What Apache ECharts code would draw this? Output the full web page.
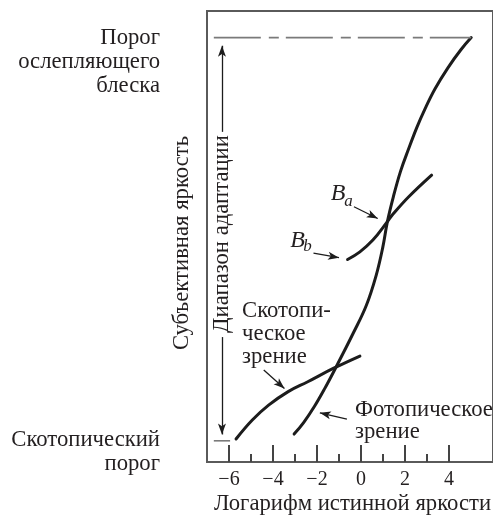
<!DOCTYPE html>
<html><head><meta charset="utf-8">
<script src="https://cdn.jsdelivr.net/npm/echarts@6/dist/echarts.min.js"></script>
<style>html,body{margin:0;padding:0;background:#fff}#c{width:493px;height:521px}</style>
</head><body><div id="c"></div>
<script>
// ---- data (x: log of true luminance, y: subjective brightness, arbitrary units 0..10)
const xTicksMajor = [-6, -4, -2, 0, 2, 4];
const xTicksMinor = [-5, -3, -1, 1, 3];
const photopic = [[-3.04,0.62],[-2.60,0.88],[-2.12,1.23],[-1.67,1.61],[-1.16,2.08],[-0.35,2.86],[0.24,3.47],[0.69,4.14],[0.99,4.76],[1.20,5.33],[1.47,5.88],[1.80,6.45],[2.17,6.95],[2.54,7.42],[2.91,7.83],[3.36,8.27],[3.95,8.74],[4.54,9.14],[5.01,9.41]];
const adaptCurve = [[-0.61,4.49],[-0.05,4.66],[0.54,4.92],[1.20,5.33],[1.43,5.48],[2.17,5.88],[3.21,6.36]];
const scotopic = [[-5.68,0.51],[-4.94,0.93],[-4.20,1.26],[-3.31,1.56],[-2.42,1.78],[-1.24,2.08],[-0.05,2.35]];
const glareLevel = 9.41;
const scotopicThreshold = 0.47;
const glareLine = [[-6.69, glareLevel], [5.01, glareLevel]];
const glareStub = [[-8.38, glareLevel], [-7.36, glareLevel]];
const threshStub = [[-8.38, scotopicThreshold], [-7.36, scotopicThreshold]];
const threshBar = [[-6.69, scotopicThreshold], [-5.95, scotopicThreshold]];
// annotation arrows: [from, to]
const arrowBa = [[-0.32,5.66],[0.76,5.40]];
const arrowBb = [[-2.16,4.63],[-1.00,4.53]];
const arrowScot = [[-4.42,2.04],[-3.48,1.63]];
const arrowPhot = [[-0.64,0.95],[-1.87,1.09]];
const adaptUp = [[-6.32,7.32],[-6.32,9.23]];
const adaptDown = [[-6.32,2.77],[-6.32,0.61]];

const FONT = '"Liberation Serif", "Times New Roman", Times, serif';
const FS = 22.7;
const TXT = '#231f20';
const CURVE = '#1c1c1c';
const GREY = '#7a7a7a';

const chart = echarts.init(document.getElementById('c'));
const curve = (d) => ({type:'line', data:d, smooth:0.4, symbol:'none', silent:true,
  lineStyle:{color:CURVE, width:3, cap:'round'}});
const ref = (d, extra) => Object.assign({type:'line', data:d, symbol:'none', silent:true, clip:false,
  lineStyle:{color:GREY, width:1.6}}, extra||{});
const arrowItem = (a) => [{coord:a[0]},{coord:a[1]}];

const txt = (x, y, text, size, extra, rot) => ({type:'text', x:x, y:y, silent:true, rotation:rot||0,
  style:Object.assign({text:text, fill:TXT, fontFamily:FONT, fontSize:size}, extra||{})});

chart.setOption({
  animation:false,
  grid:{left:207, top:11, width:292.5, height:451, show:true, borderColor:'#5a5a5a', borderWidth:2, backgroundColor:'transparent'},
  xAxis:[
    {type:'value', min:-7, max:6, axisLine:{show:false}, splitLine:{show:false}, axisLabel:{show:false},
     axisTick:{show:true, inside:true, length:8, customValues:xTicksMinor, lineStyle:{color:'#444', width:2}}},
    {type:'value', min:-7, max:6, position:'bottom', axisLine:{show:false}, splitLine:{show:false},
     axisTick:{show:true, inside:true, length:17, customValues:xTicksMajor, lineStyle:{color:'#444', width:2}},
     axisLabel:{customValues:xTicksMajor, margin:8, fontFamily:FONT, fontSize:20, color:TXT,
       formatter:(v)=>String(v).replace('-', '\u2212')}}
  ],
  yAxis:{type:'value', min:0, max:10, show:false},
  series:[
    curve(photopic),
    curve(adaptCurve),
    Object.assign(curve(scotopic), {
      markLine:{silent:true, symbol:['none','arrow'], symbolSize:[6,11], label:{show:false}, animation:false,
        lineStyle:{color:CURVE, width:1.3, type:'solid'},
        data:[arrowItem(arrowBa), arrowItem(arrowBb), arrowItem(arrowScot), arrowItem(arrowPhot),
              arrowItem(adaptUp), arrowItem(adaptDown)]}
    }),
    ref(glareLine, {lineStyle:{color:GREY, width:1.6, type:[47,8,10,7]}}),
    ref(glareStub),
    ref(threshStub),
    ref(threshBar)
  ],
  graphic:[
    txt(160, 25.7, 'Порог\nослепляющего\nблеска', FS, {align:'right', verticalAlign:'top', lineHeight:24}),
    txt(160, 428, 'Скотопический\nпорог', FS, {align:'right', verticalAlign:'top', lineHeight:24}),
    txt(182, 243, 'Субъективная яркость', FS, {align:'center', verticalAlign:'middle'}, Math.PI/2),
    txt(222, 234, 'Диапазон адаптации', FS, {align:'center', verticalAlign:'middle'}, Math.PI/2),
    txt(352.5, 504, 'Логарифм истинной яркости', FS, {align:'center', verticalAlign:'middle'}),
    txt(242, 299.5, 'Скотопи-\nческое\nзрение', FS, {align:'left', verticalAlign:'top', lineHeight:23}),
    txt(355, 399, 'Фотопическое\nзрение', FS, {align:'left', verticalAlign:'top', lineHeight:22}),
    txt(338, 193.3, 'B', 24, {align:'center', verticalAlign:'middle', fontStyle:'italic'}),
    txt(348.5, 202, 'a', 17, {align:'center', verticalAlign:'middle', fontStyle:'italic'}),
    txt(297.5, 240.5, 'B', 24, {align:'center', verticalAlign:'middle', fontStyle:'italic'}),
    txt(307.5, 247, 'b', 17, {align:'center', verticalAlign:'middle', fontStyle:'italic'})
  ]
});
</script></body></html>
